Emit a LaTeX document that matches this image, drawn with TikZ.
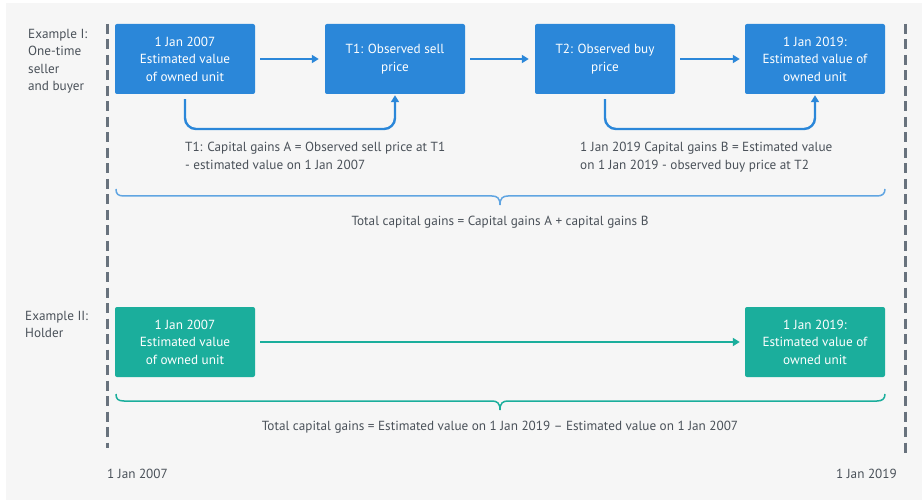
\documentclass[tikz,border=0pt]{standalone}
\usepackage{fontspec}
\setmainfont{PT Sans}
\usetikzlibrary{arrows.meta}
\definecolor{bg}{HTML}{F6F6F6}
\definecolor{bluebox}{HTML}{2B87D9}
\definecolor{tealbox}{HTML}{1BAE9C}
\definecolor{txt}{HTML}{4A5159}
\definecolor{dashc}{HTML}{68727D}
\begin{document}
\begin{tikzpicture}[x=1pt,y=-1pt,
  box/.style={minimum width=140pt,minimum height=70pt,rounded corners=2pt,text=white,align=center,inner sep=0pt,
    font=\fontsize{13.2}{17.5}\selectfont},
  bbox/.style={box,fill=bluebox},
  tbox/.style={box,fill=tealbox},
  lbl/.style={text=txt,font=\fontsize{13.2}{17.5}\selectfont,inner sep=0pt},
  barrow/.style={draw=bluebox,line width=2.4pt,-{Triangle[width=8pt,length=7pt]}},
  tarrow/.style={draw=tealbox,line width=2.4pt,-{Triangle[width=8pt,length=7pt]}},
  vdash/.style={draw=dashc,line width=3pt,dash pattern=on 10pt off 5.5pt},
  brace/.style={line width=1.5pt}
]
\useasboundingbox (0,0) rectangle (922,500);
\fill[white] (0,0) rectangle (922,500);
\fill[bg] (6,3) rectangle (922,500);

% dashed time lines
\coordinate (dl1) at (107,24);
\coordinate (dl2) at (107,448);
\coordinate (dr1) at (905,24);
\coordinate (dr2) at (905,453);
\draw[vdash] (dl1) -- (dl2);
\draw[vdash] (dr1) -- (dr2);

% Example labels
\node[lbl,anchor=north west,align=left] (ex1) at (28,29) {Example I:\\One-time\\seller\\and buyer};
\node[lbl,anchor=north west,align=left] (ex2) at (25,311) {Example II:\\Holder};

% Example I boxes
\node[bbox] (b1) at (185,59) {1 Jan 2007\\Estimated value\\of owned unit};
\node[bbox] (t1) at (395,59) {T1: Observed sell\\price};
\node[bbox] (t2) at (605,59) {T2: Observed buy\\price};
\node[bbox] (b2) at (815,59) {1 Jan 2019:\\Estimated value of\\owned unit};

\draw[barrow] ([xshift=5pt]b1.east) -- ([xshift=-6pt]t1.west);
\draw[barrow] ([xshift=5pt]t1.east) -- ([xshift=-6pt]t2.west);
\draw[barrow] ([xshift=5pt]t2.east) -- ([xshift=-5pt]b2.west);

\draw[draw=bluebox,line width=2.4pt,rounded corners=11pt,-{Triangle[width=8pt,length=7pt]}]
  ([yshift=-5pt]b1.south) -- (b1.south |- 0,129) -- (t1.south |- 0,129) -- ([yshift=-1pt]t1.south);
\draw[draw=bluebox,line width=2.4pt,rounded corners=11pt,-{Triangle[width=8pt,length=7pt]}]
  ([yshift=-5pt]t2.south) -- (t2.south |- 0,129) -- (b2.south |- 0,129) -- ([yshift=-1pt]b2.south);

\node[lbl,anchor=north west,align=left] (capA) at (185,142) {T1: Capital gains A = Observed sell price at T1\\- estimated value on 1 Jan 2007};
\node[lbl,anchor=north west,align=left] (capB) at (580,142) {1 Jan 2019 Capital gains B = Estimated value\\on 1 Jan 2019 - observed buy price at T2};

% brace I
\coordinate (br1l) at (116,189);
\coordinate (br1r) at (885,189);
\coordinate (br1m) at (500,205);
\draw[brace,draw=bluebox!75!white] (br1l) .. controls (116,194) and (118,196) .. (124,196) -- (492,196)
  .. controls (497,196) and (500,198) .. (br1m) .. controls (500,198) and (503,196) .. (508,196)
  -- (877,196) .. controls (882,196) and (885,194) .. (br1r);
\node[lbl] (tot1) at (500,222) {Total capital gains = Capital gains A + capital gains B};

% Example II boxes
\node[tbox] (h1) at (185,342) {1 Jan 2007\\Estimated value\\of owned unit};
\node[tbox] (h2) at (815,342) {1 Jan 2019:\\Estimated value of\\owned unit};
\draw[tarrow] ([xshift=5pt]h1.east) -- ([xshift=-5pt]h2.west);

% brace II
\coordinate (br2l) at (116,394);
\coordinate (br2r) at (885,394);
\coordinate (br2m) at (500,410);
\draw[brace,draw=tealbox] (br2l) .. controls (116,399) and (118,401) .. (124,401) -- (492,401)
  .. controls (497,401) and (500,403) .. (br2m) .. controls (500,403) and (503,401) .. (508,401)
  -- (877,401) .. controls (882,401) and (885,399) .. (br2r);
\node[lbl] (tot2) at (500,427) {Total capital gains = Estimated value on 1 Jan 2019 – Estimated value on 1 Jan 2007};

% bottom dates
\node[lbl,anchor=west] (d1) at (107,474) {1 Jan 2007};
\node[lbl,anchor=east] (d2) at (897,474) {1 Jan 2019};
\end{tikzpicture}
\end{document}
